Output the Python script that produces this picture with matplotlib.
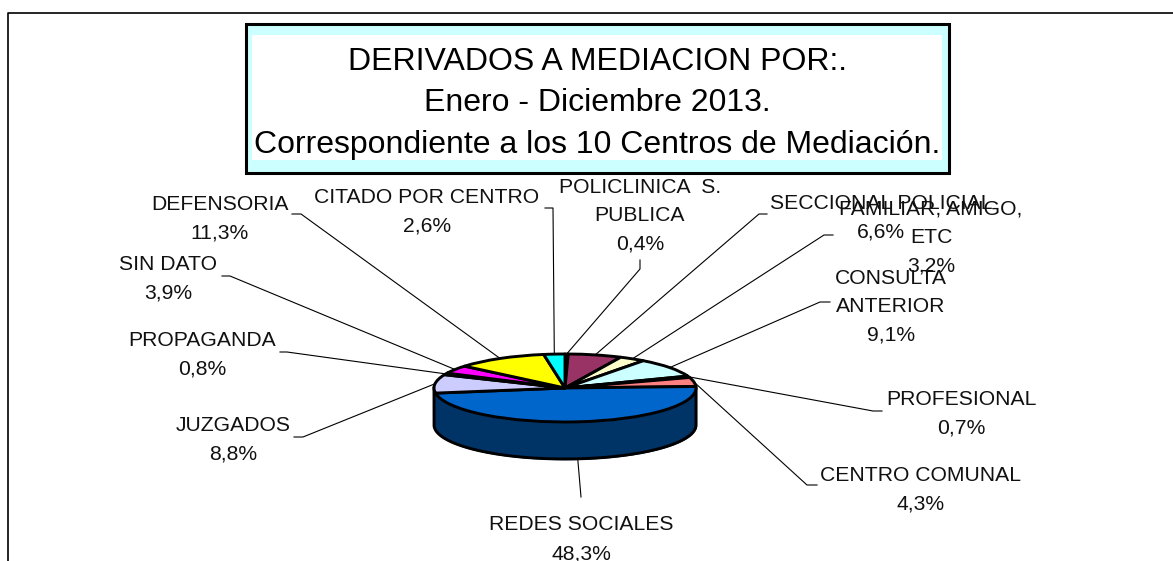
import numpy as np
import matplotlib
matplotlib.use('Agg')
import matplotlib.pyplot as plt
from matplotlib.patches import Rectangle

plt.rcParams['font.family'] = ['Liberation Sans', 'DejaVu Sans']

# datos, en sentido horario desde las 12
categorias = ['POLICLINICA  S.\nPUBLICA', 'SECCIONAL POLICIAL', 'FAMILIAR, AMIGO,\nETC',
              'CONSULTA\nANTERIOR', 'PROFESIONAL', 'CENTRO COMUNAL', 'REDES SOCIALES',
              'JUZGADOS', 'PROPAGANDA', 'SIN DATO', 'DEFENSORIA', 'CITADO POR CENTRO']
valores = [0.4, 6.6, 3.2, 9.1, 0.7, 4.3, 48.3, 8.8, 0.8, 3.9, 11.3, 2.6]
colores = ['#9999FF', '#993366', '#FFFFCC', '#CCFFFF', '#660066', '#FF8080',
           '#0066CC', '#CCCCFF', '#000080', '#FF00FF', '#FFFF00', '#00FFFF']
titulo = ['DERIVADOS A MEDIACION POR:.', 'Enero - Diciembre 2013.',
          'Correspondiente a los 10 Centros de Mediación.']

# posicion de cada etiqueta en pixeles: centro x, y de la primera linea
pos_etiquetas = [(640, 187), (881, 203), (931, 209), (891, 278), (961, 399), (921, 475),
                 (581, 525), (233, 425), (202, 340), (168, 264), (220, 204), (427, 197)]
# codo de cada linea guia: punto junto al texto, punto del quiebre
codos = [((640, 260), (640, 269)), ((767, 214), (759, 214)), ((833, 235), (824, 235)),
         ((830, 302), (820, 302)), ((882, 411), (873, 411)), ((817, 485), (807, 485)),
         ((581, 497), (581, 497)), ((294, 437), (303, 437)), ((280, 352), (287, 352)),
         ((222, 276), (230, 276)), ((292, 214), (301, 214)), ((545, 208), (553, 208))]

W, H = 1173, 561
CX, CY, RX, RY, ALTO = 565, 388, 131, 34, 37

fig = plt.figure(figsize=(W / 100, H / 100), dpi=100)
ax = fig.add_axes([0, 0, 1, 1])
ax.set_xlim(0, W)
ax.set_ylim(H, 0)
ax.axis('off')

# marco, solo arriba e izquierda
ax.plot([7.5, 7.5, W], [H, 12.5, 12.5], color='black', lw=1.2)

# caja del titulo
ax.add_patch(Rectangle((245.5, 23.5), 703, 149, fc='#CCFFFF', ec='black', lw=2.2, zorder=2))
ax.add_patch(Rectangle((252, 35), 690, 125, fc='white', ec='none', zorder=2.1))
for y, linea in zip([62, 103, 145], titulo):
    ax.text(597, y, linea, fontsize=23.05, ha='center', va='center', zorder=3)

# torta en sus propios ejes, achatada
ax_pie = fig.add_axes([(CX - RX) / W, 1 - (CY + RY) / H, 2 * RX / W, 2 * RY / H])
ax_pie.pie(valores, colors=colores, startangle=90, counterclock=False,
           wedgeprops={'edgecolor': 'black', 'linewidth': 2.1, 'joinstyle': 'round', 'clip_on': False})
ax_pie.set_aspect('auto')
ax_pie.set_xlim(-1, 1)
ax_pie.set_ylim(-1, 1)
ax_pie.patch.set_alpha(0)

# pared lateral
t = np.linspace(np.pi, 2 * np.pi, 200)
alto = ALTO / RY
ax_pie.fill_between(np.cos(t), np.sin(t), np.sin(t) - alto, color='#003366', zorder=0.5, clip_on=False)
ax_pie.plot(np.r_[-1, np.cos(t), 1], np.r_[0, np.sin(t) - alto, 0], color='black', lw=2.1,
            zorder=0.6, clip_on=False)

# lineas guia y etiquetas
total = sum(valores)
acum = 0
for nombre, v, (x, y), (p1, p2) in zip(categorias, valores, pos_etiquetas, codos):
    ang = 2 * np.pi * (acum + v / 2) / total
    acum += v
    ax_x = CX + RX * np.sin(ang)
    ax_y = CY - RY * np.cos(ang)
    if np.cos(ang) < 0:
        ax_y += ALTO
    ax.plot([p1[0], p2[0], ax_x], [p1[1], p2[1], ax_y], color='black', lw=0.8, zorder=1)
    lineas = nombre.split('\n') + [f'{v:.1f}%'.replace('.', ',')]
    for i, linea in enumerate(lineas):
        ax.text(x, y + i * 28.7, linea, fontsize=15.2, ha='center', va='center', color='#111111', zorder=4)

fig.savefig('out.png', dpi=100)
